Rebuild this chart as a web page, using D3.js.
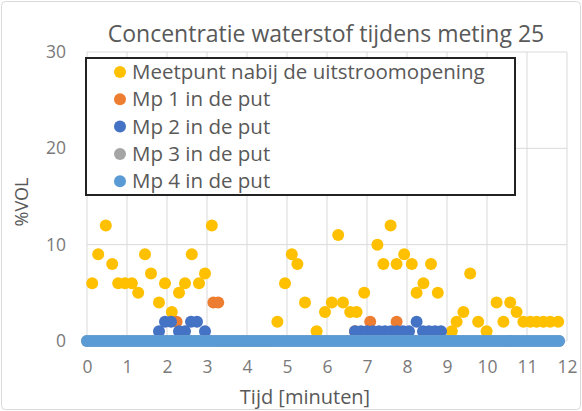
<!DOCTYPE html>
<html>
<head>
<meta charset="utf-8">
<script src="https://cdn.jsdelivr.net/npm/d3@7"></script>
<style>
  body { margin: 0; background: #fff; }
  text { font-family: "Open Sans", Lato, sans-serif; fill: #595959; }
</style>
</head>
<body>
<svg width="582" height="411"></svg>
<script>
// series: [tijd (min), %VOL]
var meetpunt = [
	[0.13,6],[0.28,9],[0.47,12],[0.63,8],[0.78,6],[0.95,6],[1.12,6],[1.28,5],[1.45,9],[1.6,7],
	[1.8,4],[1.95,6],[2.12,3],[2.3,5],[2.45,6],[2.62,9],[2.8,6],[2.95,7],[3.12,12],
	[3.3,0],[3.5,0],[3.7,0],[3.9,0],[4.1,0],[4.3,0],[4.5,0],
	[4.76,2],[4.95,6],[5.12,9],[5.26,8],[5.45,4],[5.74,1],[5.95,3],[6.12,4],[6.28,11],[6.4,4],
	[6.58,3],[6.74,3],[6.93,5],[7.26,10],[7.41,8],[7.59,12],[7.74,8],[7.93,9],[8.12,8],[8.24,5],
	[8.41,6],[8.6,8],[8.77,5],[9.12,1],[9.24,2],[9.41,3],[9.58,7],[9.78,2],[9.99,1],[10.24,4],
	[10.41,2],[10.58,4],[10.74,3],[10.91,2],[11.08,2],[11.24,2],[11.41,2],[11.58,2],[11.78,2]
];
var mp1 = [[2.24,2],[3.16,4],[3.28,4],[6.7,1],[7.08,2],[7.74,2]];
var mp2 = [
	[1.8,1],[1.95,2],[2.1,2],[2.3,1],[2.45,1],[2.6,2],[2.75,2],[2.95,1],
	[6.7,1],[6.85,1],[7.0,1],[7.15,1],[7.3,1],[7.45,1],[7.6,1],[7.75,1],[7.9,1],[8.05,1],
	[8.24,2],[8.4,1],[8.55,1],[8.7,1],[8.85,1]
];
var baseTimes = [
	0,0.1,0.2,0.3,0.4,0.5,0.6,0.7,0.8,0.9,1,1.1,1.2,1.3,1.4,1.5,1.6,1.7,1.8,1.9,
	2,2.1,2.2,2.3,2.4,2.5,2.6,2.7,2.8,2.9,3,3.1,3.2,3.3,3.4,3.5,3.6,3.7,3.8,3.9,
	4,4.1,4.2,4.3,4.4,4.5,4.6,4.7,4.8,4.9,5,5.1,5.2,5.3,5.4,5.5,5.6,5.7,5.8,5.9,
	6,6.1,6.2,6.3,6.4,6.5,6.6,6.7,6.8,6.9,7,7.1,7.2,7.3,7.4,7.5,7.6,7.7,7.8,7.9,
	8,8.1,8.2,8.3,8.4,8.5,8.6,8.7,8.8,8.9,9,9.1,9.2,9.3,9.4,9.5,9.6,9.7,9.8,9.9,
	10,10.1,10.2,10.3,10.4,10.5,10.6,10.7,10.8,10.9,11,11.1,11.2,11.3,11.4,11.5,11.6,11.7,11.8
];
var mp3Values = [
	0,0,0,0,0,0,0,0,0,0,0,0,0,0,0,0,0,0,0,0,
	0,0,0,0,0,0,0,0,0,0,0,0,0,0,0,0,0,0,0,0,
	0,0,0,0,0,0,0,0,0,0,0,0,0,0,0,0,0,0,0,0,
	0,0,0,0,0,0,0,0,0,0,0,0,0,0,0,0,0,0,0,0,
	0,0,0,0,0,0,0,0,0,0,0,0,0,0,0,0,0,0,0,0,
	0,0,0,0,0,0,0,0,0,0,0,0,0,0,0,0,0,0,0
];
var mp4Values = [
	0,0,0,0,0,0,0,0,0,0,0,0,0,0,0,0,0,0,0,0,
	0,0,0,0,0,0,0,0,0,0,0,0,0,0,0,0,0,0,0,0,
	0,0,0,0,0,0,0,0,0,0,0,0,0,0,0,0,0,0,0,0,
	0,0,0,0,0,0,0,0,0,0,0,0,0,0,0,0,0,0,0,0,
	0,0,0,0,0,0,0,0,0,0,0,0,0,0,0,0,0,0,0,0,
	0,0,0,0,0,0,0,0,0,0,0,0,0,0,0,0,0,0,0
];

var seriesNames = ["Meetpunt nabij de uitstroomopening", "Mp 1 in de put", "Mp 2 in de put", "Mp 3 in de put", "Mp 4 in de put"];
var seriesColors = ["#FFC000", "#ED7D31", "#4472C4", "#A5A5A5", "#5B9BD5"];
var xTicks = [0,1,2,3,4,5,6,7,8,9,10,11,12];
var yTicks = [0,10,20,30];

var series = [
	meetpunt, mp1, mp2,
	baseTimes.map(function(t, i) { return [t, mp3Values[i]]; }),
	baseTimes.map(function(t, i) { return [t, mp4Values[i]]; })
];

var svg = d3.select("svg");

svg.append("rect")
	.attr("x", 1.5).attr("y", 1.5)
	.attr("width", 579).attr("height", 408)
	.attr("rx", 4)
	.style("fill", "#fff")
	.style("stroke", "#d9d9d9");

var x = d3.scaleLinear().domain([0, 12]).range([87, 567]);
var y = d3.scaleLinear().domain([0, 30]).range([341, 52]);

// gridlines
svg.append("g").selectAll("line.v")
	.data(xTicks)
	.enter().append("line")
	.attr("x1", function(d) { return x(d); })
	.attr("x2", function(d) { return x(d); })
	.attr("y1", y(30)).attr("y2", y(0))
	.style("stroke", "#d9d9d9");

svg.append("g").selectAll("line.h")
	.data(yTicks)
	.enter().append("line")
	.attr("x1", x(0)).attr("x2", x(12))
	.attr("y1", function(d) { return y(d); })
	.attr("y2", function(d) { return y(d); })
	.style("stroke", "#d9d9d9");

// axes
var xAxis = svg.append("g")
	.attr("transform", "translate(0," + (y(0) + 20) + ")")
	.call(d3.axisBottom(x).tickValues(xTicks).tickSize(0).tickPadding(0));
var yAxis = svg.append("g")
	.attr("transform", "translate(" + (x(0) - 21) + ",0)")
	.call(d3.axisLeft(y).tickValues(yTicks).tickSize(0).tickPadding(0));
[xAxis, yAxis].forEach(function(a) {
	a.select(".domain").remove();
	a.selectAll("text").style("font-size", "17.5px").style("fill", "#7a7a7a")
		.style("font-family", "'Open Sans', Lato, sans-serif");
});

// points
series.forEach(function(s, i) {
	svg.append("g").selectAll("circle")
		.data(s)
		.enter().append("circle")
		.attr("cx", function(d) { return x(d[0]); })
		.attr("cy", function(d) { return y(d[1]); })
		.attr("r", 6)
		.style("fill", seriesColors[i]);
});

// titles
svg.append("text")
	.attr("x", 326).attr("y", 42)
	.attr("text-anchor", "middle")
	.style("font-size", "23px")
	.text("Concentratie waterstof tijdens meting 25");

svg.append("text")
	.attr("x", 305).attr("y", 404)
	.attr("text-anchor", "middle")
	.style("font-size", "20px")
	.text("Tijd [minuten]");

svg.append("text")
	.attr("transform", "translate(28,202) rotate(-90)")
	.attr("text-anchor", "middle")
	.style("font-size", "18px")
	.text("%VOL");

// legend
var legend = svg.append("g");
legend.append("rect")
	.attr("x", 86).attr("y", 58)
	.attr("width", 429).attr("height", 137)
	.style("fill", "#fff")
	.style("stroke", "#222")
	.style("stroke-width", 2);

var item = legend.selectAll("g.item")
	.data(seriesNames)
	.enter().append("g")
	.attr("transform", function(d, i) { return "translate(120," + (72 + i * 27.3) + ")"; });
item.append("circle")
	.attr("r", 6)
	.style("fill", function(d, i) { return seriesColors[i]; });
item.append("text")
	.attr("x", 12).attr("dy", "0.35em")
	.style("font-size", "20.5px")
	.text(function(d) { return d; });
</script>
</body>
</html>
